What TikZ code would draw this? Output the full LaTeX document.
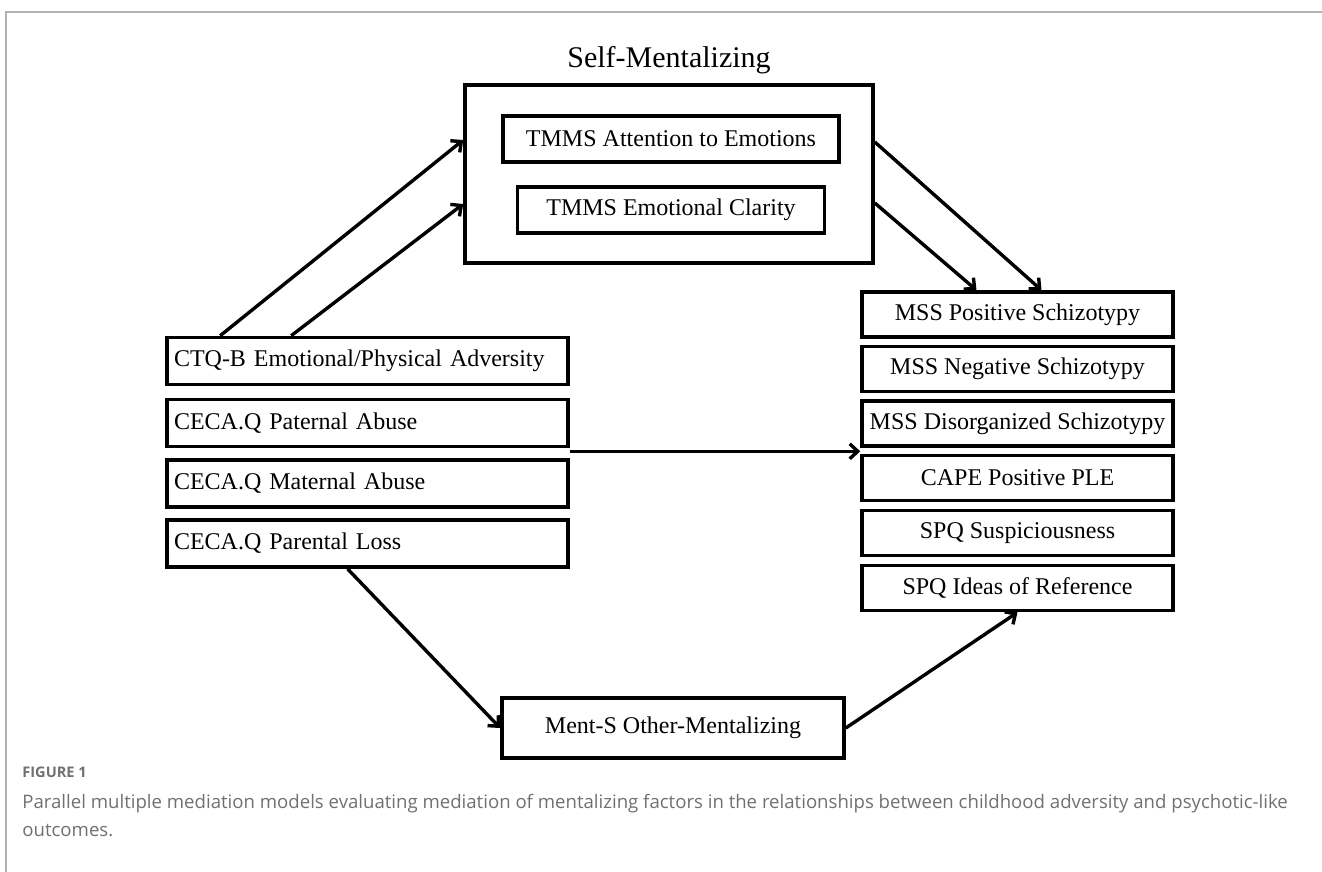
\documentclass[tikz,border=0pt]{standalone}
\usepackage{fontspec}
\setmainfont{Liberation Serif}
\newfontfamily\capfont{Open Sans}
\usetikzlibrary{positioning,arrows.meta,calc}
\definecolor{ink}{HTML}{000000}
\definecolor{rule}{HTML}{B2B2B2}
\definecolor{capgray}{HTML}{707070}

\begin{document}
\begin{tikzpicture}[x=0.5pt,y=-0.5pt,
    box/.style={draw=ink, line width=1.8pt, inner sep=2pt, font=\fontsize{12}{14}\selectfont},
    srcbox/.style={box, minimum width=200.5pt, minimum height=23.5pt, text width=193.5pt, align=left, inner xsep=3.5pt},
    outbox/.style={box, minimum width=155.5pt, minimum height=22.5pt},
    arr/.style={-{Straight Barb[length=4pt,width=7.5pt]}, line width=1.7pt, ink}]
        \useasboundingbox (0,0) rectangle (1322,872);
        % page frame
        \draw[rule, line width=1pt] (1322,12) -- (6,12) -- (6,872);

        % self-mentalizing block
        \node[font=\fontsize{15}{18}\selectfont] (title) at (669,60) {Self-Mentalizing};
        \node[box, minimum width=204pt, minimum height=89pt] (self) at (669,174) {};
        \node[box, minimum width=168pt, minimum height=23pt] (attn) at (671,139) {TMMS Attention to Emotions};
        \node[box, minimum width=153.5pt, minimum height=23pt] (clar) at (671,210) {TMMS Emotional Clarity};

        % adversity measures
        \node[srcbox] (ctq) at (367.5,361) {CTQ-B Emotional/Physical Adversity};
        \node[srcbox] (pat) at (367.5,423) {CECA.Q Paternal Abuse};
        \node[srcbox] (mat) at (367.5,483.5) {CECA.Q Maternal Abuse};
        \node[srcbox] (par) at (367.5,543.5) {CECA.Q Parental Loss};

        % outcomes
        \node[outbox] (pos) at (1017.5,314.5) {MSS Positive Schizotypy};
        \node[outbox] (neg) at (1017.5,369) {MSS Negative Schizotypy};
        \node[outbox] (dis) at (1017.5,423.5) {MSS Disorganized Schizotypy};
        \node[outbox] (cape) at (1017.5,478) {CAPE Positive PLE};
        \node[outbox] (susp) at (1017.5,533) {SPQ Suspiciousness};
        \node[outbox] (ideas) at (1017.5,588) {SPQ Ideas of Reference};

        % other-mentalizing
        \node[box, minimum width=171pt, minimum height=30pt] (ment) at (673,728) {Ment-S Other-Mentalizing};

        % paths
        \draw[arr] ([xshift=27.5pt]ctq.north west) -- ([yshift=17pt]self.west);
        \draw[arr] ([xshift=63pt]ctq.north west) -- ([yshift=-15pt]self.west);
        \draw[arr] ([yshift=16pt]self.east) -- ([xshift=12pt]pos.north);
        \draw[arr] ([yshift=-14.5pt]self.east) -- ([xshift=-20.5pt]pos.north);
        \draw[arr] ([yshift=-1.5pt]pat.south east) -- ([yshift=-1.5pt]pat.south east -| dis.west);
        \draw[arr] ([xshift=-10pt]par.south) -- (ment.west);
        \draw[arr] (ment.east) -- (ideas.south);

        % caption
        \node[capgray, anchor=base west, inner sep=0pt, font=\capfont\bfseries\fontsize{7.3}{9}\selectfont] (figno) at (22,777) {FIGURE 1};
        \node[capgray, anchor=base west, inner sep=0pt, align=left, font=\capfont\fontsize{9.3}{14}\selectfont] (cap) at (22,836)
            {Parallel multiple mediation models evaluating mediation of mentalizing factors in the relationships between childhood adversity and psychotic-like\\outcomes.};
      \end{tikzpicture}
\end{document}
